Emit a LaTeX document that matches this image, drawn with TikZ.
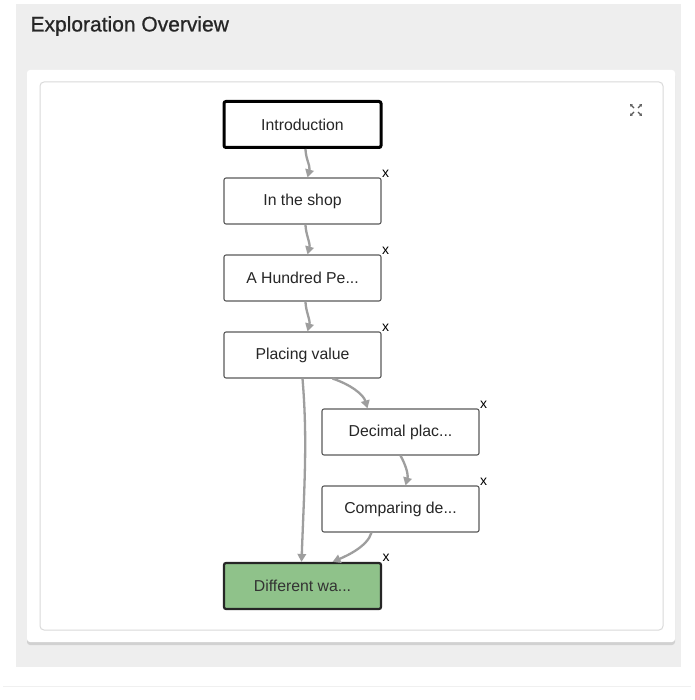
\documentclass[tikz,border=0pt]{standalone}
\usepackage{fontspec}
\setmainfont{Liberation Sans}
\newfontfamily\titlefont[FakeBold=0.8]{Liberation Sans}
\usetikzlibrary{arrows.meta,calc,shadows}
\definecolor{panelgrey}{HTML}{EEEEEE}
\definecolor{edgegrey}{HTML}{9E9E9E}
\definecolor{boxborder}{HTML}{5A5A5A}
\definecolor{txt}{HTML}{262626}
\definecolor{greenfill}{HTML}{8FC28A}
\definecolor{cardline}{HTML}{DADADA}
\tikzset{
  statebox/.style={draw=boxborder, line width=1.1pt, rounded corners=2pt, fill=white,
    minimum width=157pt, minimum height=46pt, inner sep=0pt,
    font=\fontsize{15.8}{18}\selectfont, text=txt},
  initbox/.style={statebox, draw=black, line width=3pt},
  endbox/.style={statebox, draw=black!85, line width=2.2pt, fill=greenfill, text=black!80},
  link/.style={draw=edgegrey, line width=2.3pt, -{Triangle[length=8pt,width=8.5pt]}},
  xmark/.style={font=\fontsize{14}{14}\selectfont, text=black, inner sep=0pt},
  iconarrow/.style={draw=black!65, line width=1.1pt, -{Triangle[length=2.5pt,width=3pt]}}
}
\begin{document}
\begin{tikzpicture}[x=1pt,y=-1pt]
\useasboundingbox (0,0) rectangle (694,700);
% background panels
\fill[panelgrey] (16,4) rectangle (681,667);
\draw[black!6, line width=1pt] (3,686) -- (691,686);
\node[anchor=west, text=txt, font=\titlefont\fontsize{21}{24}\selectfont] (title) at (27,26) {Exploration Overview};
\fill[black!18, rounded corners=3pt] (27,73) rectangle (675,645);
\fill[white, rounded corners=3pt] (27,70) rectangle (675,642);
\draw[cardline, line width=1pt, rounded corners=4pt] (40,82) rectangle (663,630);
% nodes
\node[initbox] (intro) at (302.5,124.5) {Introduction};
\node[statebox] (shop) at (302.5,201) {In the shop};
\node[statebox] (hundred) at (302.5,278) {A Hundred Pe...};
\node[statebox] (placing) at (302.5,355) {Placing value};
\node[statebox] (decimal) at (400.5,432) {Decimal plac...};
\node[statebox] (comparing) at (400.5,509) {Comparing de...};
\node[endbox] (different) at (302.5,586) {Different wa...};
% x marks
\node[xmark] (x1) at ($(shop.north east)+(4,-4)$) {x};
\node[xmark] (x2) at ($(hundred.north east)+(4,-4)$) {x};
\node[xmark] (x3) at ($(placing.north east)+(4,-4)$) {x};
\node[xmark] (x4) at ($(decimal.north east)+(4,-4)$) {x};
\node[xmark] (x5) at ($(comparing.north east)+(4,-4)$) {x};
\node[xmark] (x6) at ($(different.north east)+(4,-4)$) {x};
% edges
\draw[link] ($(intro.south)+(3,0)$) .. controls +(0,9) and +(3,-11) .. ($(shop.north)+(5,0)$);
\draw[link] ($(shop.south)+(3,0)$) .. controls +(0,9) and +(3,-11) .. ($(hundred.north)+(5,0)$);
\draw[link] ($(hundred.south)+(3,0)$) .. controls +(0,9) and +(3,-11) .. ($(placing.north)+(5,0)$);
\draw[link] ($(placing.south)+(30,0)$) .. controls +(18,6) and +(-4,-14) .. ($(decimal.north)+(-33,0)$);
\draw[link] ($(decimal.south)+(0,0)$) .. controls +(5,9) and +(3,-11) .. ($(comparing.north)+(5,0)$);
\draw[link] ($(placing.south)+(0,0)$) .. controls +(5,60) and +(3,-80) .. ($(different.north)+(-1,0)$);
\draw[link] ($(comparing.south)+(-29,0)$) .. controls +(-4,14) and +(14,-6) .. ($(different.north)+(30,0)$);
% expand icon
\coordinate (ic) at (636,110);
\draw[iconarrow] ($(ic)+(-2,-2)$) -- ($(ic)+(-6,-6)$);
\draw[iconarrow] ($(ic)+(2,-2)$) -- ($(ic)+(6,-6)$);
\draw[iconarrow] ($(ic)+(-2,2)$) -- ($(ic)+(-6,6)$);
\draw[iconarrow] ($(ic)+(2,2)$) -- ($(ic)+(6,6)$);
\end{tikzpicture}
\end{document}
